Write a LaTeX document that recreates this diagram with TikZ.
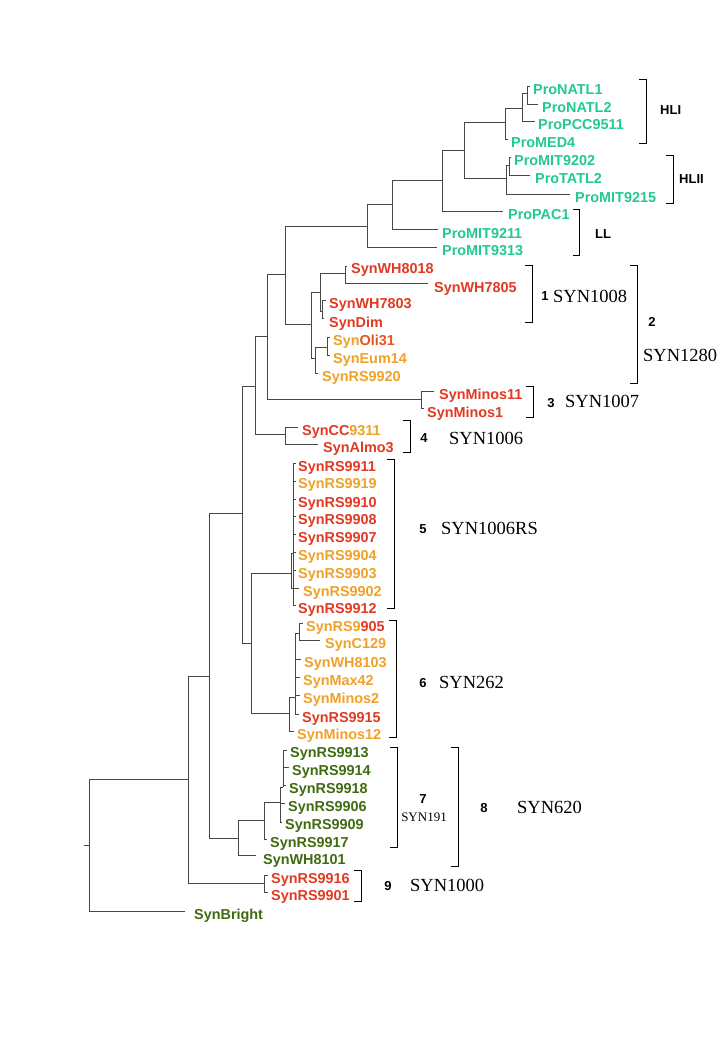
\documentclass[tikz,border=0pt]{standalone}
\usepackage{fontspec}
\setmainfont{Liberation Serif}
\newfontfamily\lsans{Liberation Sans}
\definecolor{pro}{HTML}{22C896}
\definecolor{synred}{HTML}{E23A22}
\definecolor{synorg}{HTML}{F0A128}
\definecolor{syngrn}{HTML}{3F6B12}
\begin{document}
\begin{tikzpicture}[x=1pt,y=-1pt,
  br/.style={draw=black!72,line width=0.8pt},
  brk/.style={draw=black,line width=0.9pt},
  leaf/.style={anchor=base west,inner sep=0pt,font=\lsans\bfseries\fontsize{14.4}{14.4}\selectfont},
  pro/.style={leaf,text=pro},
  red/.style={leaf,text=synred},
  org/.style={leaf,text=synorg},
  grn/.style={leaf,text=syngrn},
  num/.style={anchor=base,inner sep=0pt,font=\lsans\bfseries\fontsize{13}{13}\selectfont},
  lab/.style={anchor=base west,inner sep=0pt,font=\fontsize{18.5}{18.5}\selectfont},
  labs/.style={anchor=base,inner sep=0pt,font=\fontsize{13}{13}\selectfont}]
\useasboundingbox[fill=white] (0,0) rectangle (720,1039);
% ---------- coordinates of internal nodes ----------
\coordinate (root0) at (84,845);
\coordinate (root) at (89,845);
\coordinate (U1) at (188,779);
\coordinate (U2) at (209,676);
\coordinate (U3) at (242,513);
\coordinate (C9) at (264,883);
\coordinate (G8) at (238,838);
\coordinate (G7) at (264,820);
\coordinate (G7a) at (280,802);
\coordinate (G7b) at (283,787);
\coordinate (A) at (255,386);
\coordinate (B) at (251,643);
\coordinate (C5) at (291,573);
\coordinate (C5a) at (293,553);
\coordinate (C6) at (289,713);
\coordinate (C6a) at (295,697);
\coordinate (C6b) at (299,633);
\coordinate (CC) at (285,434);
\coordinate (A1) at (267,336);
\coordinate (Mi) at (421,399);
\coordinate (A2) at (285,274);
\coordinate (S) at (311,324);
\coordinate (S1) at (320,292);
\coordinate (S2) at (315,358);
\coordinate (S3) at (345,273);
\coordinate (S4) at (322,311);
\coordinate (S5) at (327,347);
\coordinate (P) at (367,226);
\coordinate (P1) at (392,204);
\coordinate (P2) at (442,180);
\coordinate (P3) at (464,150);
\coordinate (P4) at (505,122);
\coordinate (P5) at (522,108);
\coordinate (P6) at (527,93);
\coordinate (M) at (506,178);
\coordinate (N) at (509,165);
% ---------- leaf branch ends ----------
\coordinate (eNATL1) at (530,86);
\coordinate (eNATL2) at (538,104);
\coordinate (ePCC) at (535,121);
\coordinate (eMED4) at (508,139);
\coordinate (eMIT9202) at (511,157);
\coordinate (eTATL2) at (530,175);
\coordinate (eMIT9215) at (570,194);
\coordinate (ePAC1) at (503,211);
\coordinate (eMIT9211) at (438,229);
\coordinate (eMIT9313) at (437,247);
\coordinate (eWH8018) at (347,266);
\coordinate (eWH7805) at (428,283);
\coordinate (eWH7803) at (326,300);
\coordinate (eDim) at (324,318);
\coordinate (eOli) at (330,337);
\coordinate (eEum) at (330,355);
\coordinate (e9920) at (318,373);
\coordinate (eMinos11) at (434,391);
\coordinate (eMinos1) at (424,408);
\coordinate (eCC) at (298,427);
\coordinate (eAlmo) at (318,444);
\coordinate (e9911) at (296,463);
\coordinate (e9919) at (296,481);
\coordinate (e9910) at (296,499);
\coordinate (e9908) at (296,516);
\coordinate (e9907) at (296,534);
\coordinate (e9904) at (296,552);
\coordinate (e9903) at (296,570);
\coordinate (e9902) at (299,588);
\coordinate (e9912) at (296,605);
\coordinate (e9905) at (303,623);
\coordinate (eC129) at (320,640);
\coordinate (eWH8103) at (301,659);
\coordinate (eMax42) at (300,677);
\coordinate (eMinos2) at (300,695);
\coordinate (e9915) at (299,714);
\coordinate (eMinos12) at (294,731);
\coordinate (e9913) at (287,750);
\coordinate (e9914) at (289,767);
\coordinate (e9918) at (286,785);
\coordinate (e9906) at (285,803);
\coordinate (e9909) at (282,822);
\coordinate (e9917) at (267,839);
\coordinate (eWH8101) at (256,855);
\coordinate (e9916) at (268,875);
\coordinate (e9901) at (268,892);
\coordinate (eBright) at (185,911);
% ---------- branches ----------
\draw[br] (root0) -- (root);
\draw[br] (root) |- (U1);
\draw[br] (root) |- (eBright);
\draw[br] (U1) |- (U2);
\draw[br] (U1) |- (C9);
\draw[br] (C9) |- (e9916);
\draw[br] (C9) |- (e9901);
\draw[br] (U2) |- (U3);
\draw[br] (U2) |- (G8);
\draw[br] (G8) |- (G7);
\draw[br] (G8) |- (eWH8101);
\draw[br] (G7) |- (G7a);
\draw[br] (G7) |- (e9917);
\draw[br] (G7a) |- (G7b);
\draw[br] (G7a) |- (e9906);
\draw[br] (G7a) |- (e9909);
\draw[br] (G7b) |- (e9913);
\draw[br] (G7b) |- (e9914);
\draw[br] (G7b) |- (e9918);
\draw[br] (U3) |- (A);
\draw[br] (U3) |- (B);
\draw[br] (B) |- (C5);
\draw[br] (B) |- (C6);
\draw[br] (C5) |- (C5a);
\draw[br] (C5) |- (e9902);
\foreach \e in {e9911,e9919,e9910,e9908,e9907,e9904,e9903,e9912}
  \draw[br] (C5a) |- (\e);
\draw[br] (C6) |- (C6a);
\draw[br] (C6) |- (eMinos12);
\draw[br] (C6a) |- (C6b);
\foreach \e in {eWH8103,eMax42,eMinos2,e9915}
  \draw[br] (C6a) |- (\e);
\draw[br] (C6b) |- (e9905);
\draw[br] (C6b) |- (eC129);
\draw[br] (A) |- (A1);
\draw[br] (A) |- (CC);
\draw[br] (CC) |- (eCC);
\draw[br] (CC) |- (eAlmo);
\draw[br] (A1) |- (A2);
\draw[br] (A1) |- (Mi);
\draw[br] (Mi) |- (eMinos11);
\draw[br] (Mi) |- (eMinos1);
\draw[br] (A2) |- (P);
\draw[br] (A2) |- (S);
\draw[br] (S) |- (S1);
\draw[br] (S) |- (S2);
\draw[br] (S1) |- (S3);
\draw[br] (S1) |- (S4);
\draw[br] (S3) |- (eWH8018);
\draw[br] (S3) |- (eWH7805);
\draw[br] (S4) |- (eWH7803);
\draw[br] (S4) |- (eDim);
\draw[br] (S2) |- (S5);
\draw[br] (S2) |- (e9920);
\draw[br] (S5) |- (eOli);
\draw[br] (S5) |- (eEum);
\draw[br] (P) |- (P1);
\draw[br] (P) |- (eMIT9313);
\draw[br] (P1) |- (P2);
\draw[br] (P1) |- (eMIT9211);
\draw[br] (P2) |- (P3);
\draw[br] (P2) |- (ePAC1);
\draw[br] (P3) |- (P4);
\draw[br] (P3) |- (M);
\draw[br] (P4) |- (P5);
\draw[br] (P4) |- (eMED4);
\draw[br] (P5) |- (P6);
\draw[br] (P5) |- (ePCC);
\draw[br] (P6) |- (eNATL1);
\draw[br] (P6) |- (eNATL2);
\draw[br] (M) |- (N);
\draw[br] (M) |- (eMIT9215);
\draw[br] (N) |- (eMIT9202);
\draw[br] (N) |- (eTATL2);
% ---------- leaf labels ----------
\node[pro] (tNATL1) at (533,94) {ProNATL1};
\node[pro] (tNATL2) at (542,112) {ProNATL2};
\node[pro] (tPCC) at (538,129) {ProPCC9511};
\node[pro] (tMED4) at (511,147) {ProMED4};
\node[pro] (tMIT9202) at (514,165) {ProMIT9202};
\node[pro] (tTATL2) at (535,183) {ProTATL2};
\node[pro] (tMIT9215) at (575,202) {ProMIT9215};
\node[pro] (tPAC1) at (508,219) {ProPAC1};
\node[pro] (tMIT9211) at (442,238) {ProMIT9211};
\node[pro] (tMIT9313) at (442,255) {ProMIT9313};
\node[red] (tWH8018) at (351,273) {SynWH8018};
\node[red] (tWH7805) at (434,292) {SynWH7805};
\node[red] (tWH7803) at (329,308) {SynWH7803};
\node[red] (tDim) at (329,327) {SynDim};
\node[leaf] (tOli) at (333,345) {\textcolor{synorg}{Syn}\textcolor{synred!75!synorg}{Oli31}};
\node[org] (tEum) at (333,363) {SynEum14};
\node[org] (t9920) at (322,381) {SynRS9920};
\node[red] (tMinos11) at (439,399) {SynMinos11};
\node[red] (tMinos1) at (427,417) {SynMinos1};
\node[leaf] (tCC) at (302,435) {\textcolor{synred}{SynCC}\textcolor{synorg}{9311}};
\node[red] (tAlmo) at (323,452) {SynAlmo3};
\node[red] (t9911) at (298,471) {SynRS9911};
\node[org] (t9919) at (298,488) {SynRS9919};
\node[red] (t9910) at (298,507) {SynRS9910};
\node[red] (t9908) at (298,524) {SynRS9908};
\node[red] (t9907) at (298,542) {SynRS9907};
\node[org] (t9904) at (298,560) {SynRS9904};
\node[org] (t9903) at (298,578) {SynRS9903};
\node[org] (t9902) at (303,596) {SynRS9902};
\node[red] (t9912) at (298,613) {SynRS9912};
\node[leaf] (t9905) at (306,631) {\textcolor{synorg}{SynRS9}\textcolor{synred}{905}};
\node[org] (tC129) at (325,648) {SynC129};
\node[org] (tWH8103) at (304,667) {SynWH8103};
\node[org] (tMax42) at (303,685) {SynMax42};
\node[org] (tMinos2) at (303,703) {SynMinos2};
\node[red] (t9915) at (302,722) {SynRS9915};
\node[org] (tMinos12) at (297,739) {SynMinos12};
\node[grn] (t9913) at (290,757) {SynRS9913};
\node[grn] (t9914) at (292,775) {SynRS9914};
\node[grn] (t9918) at (289,793) {SynRS9918};
\node[grn] (t9906) at (288,811) {SynRS9906};
\node[grn] (t9909) at (285,829) {SynRS9909};
\node[grn] (t9917) at (270,847) {SynRS9917};
\node[grn] (tWH8101) at (263,864) {SynWH8101};
\node[red] (t9916) at (271,883) {SynRS9916};
\node[red] (t9901) at (271,900) {SynRS9901};
\node[grn] (tBright) at (194,919) {SynBright};
% ---------- brackets ----------
\draw[brk] (639,79) -- (646,79) -- (646,143) -- (639,143);
\draw[brk] (666,155) -- (673,155) -- (673,203) -- (666,203);
\draw[brk] (573,209) -- (579,209) -- (579,255) -- (573,255);
\draw[brk] (525,265) -- (532,265) -- (532,322) -- (525,322);
\draw[brk] (630,265) -- (637,265) -- (637,383) -- (630,383);
\draw[brk] (526,386) -- (533,386) -- (533,417) -- (526,417);
\draw[brk] (403,420) -- (410,420) -- (410,452) -- (403,452);
\draw[brk] (387,459) -- (394,459) -- (394,608) -- (387,608);
\draw[brk] (389,620) -- (396,620) -- (396,737) -- (389,737);
\draw[brk] (390,747) -- (397,747) -- (397,847) -- (390,847);
\draw[brk] (451,747) -- (458,747) -- (458,866) -- (451,866);
\draw[brk] (354,870) -- (361,870) -- (361,901) -- (354,901);
% ---------- bracket labels ----------
\node[num,anchor=base west] (hli) at (660,114) {HLI};
\node[num,anchor=base west] (hlii) at (679,183) {HLII};
\node[num,anchor=base west] (ll) at (595,238) {LL};
\node[num] (n1) at (545,300) {1};
\node[lab] (s1) at (553,302) {SYN1008};
\node[num] (n2) at (652,326) {2};
\node[lab] (s2) at (643,361) {SYN1280};
\node[num] (n3) at (551,407) {3};
\node[lab] (s3) at (565,407) {SYN1007};
\node[num] (n4) at (424,442) {4};
\node[lab] (s4) at (449,444) {SYN1006};
\node[num] (n5) at (423,533) {5};
\node[lab] (s5) at (441,534) {SYN1006RS};
\node[num] (n6) at (423,687) {6};
\node[lab] (s6) at (439,688) {SYN262};
\node[num] (n7) at (423,803) {7};
\node[labs] (s7) at (424,821) {SYN191};
\node[num] (n8) at (484,812) {8};
\node[lab] (s8) at (517,813) {SYN620};
\node[num] (n9) at (388,890) {9};
\node[lab] (s9) at (410,891) {SYN1000};
\end{tikzpicture}
\end{document}
